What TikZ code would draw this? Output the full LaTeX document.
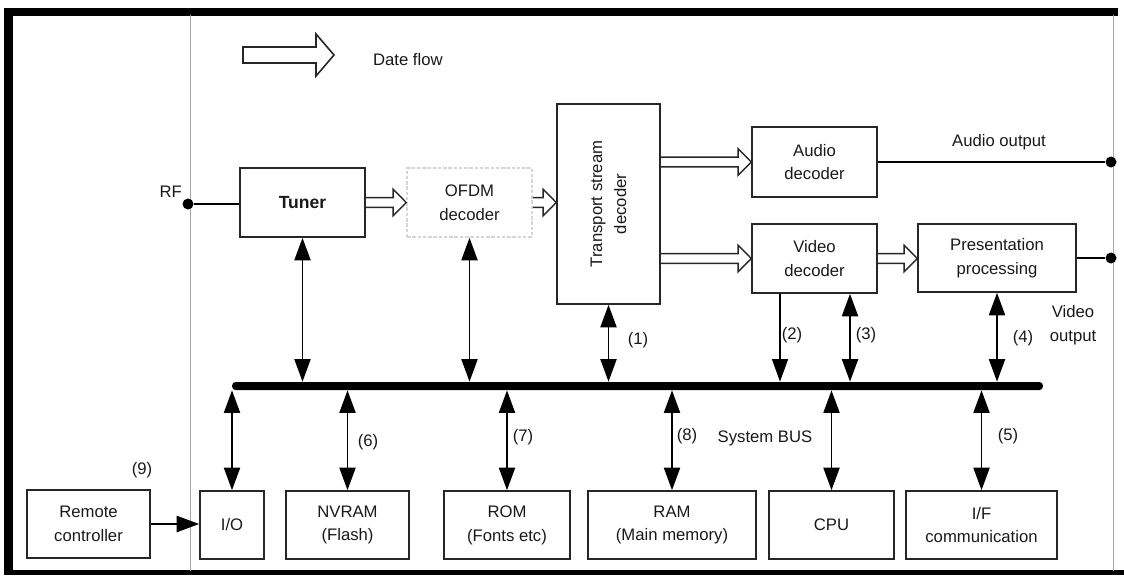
\documentclass[tikz,border=0pt]{standalone}
\usepackage{fontspec}
\setmainfont{Liberation Sans}
\usetikzlibrary{arrows.meta,calc}
\newcommand\flowarrow[2]{%
  \draw[flow] let \p1=(#1), \p2=(#2) in
    (\x1,\y1+2.8pt) -- (\x2-7.5pt,\y1+2.8pt) -- (\x2-7.5pt,\y1+7.6pt) -- (\x2,\y1)
    -- (\x2-7.5pt,\y1-7.6pt) -- (\x2-7.5pt,\y1-2.8pt) -- (\x1,\y1-2.8pt);}
\begin{document}
\begin{tikzpicture}[x=0.02cm,y=-0.02cm,
  box/.style={draw=black!85, line width=0.9pt, align=center, inner sep=0pt,
    font=\fontsize{9.5}{13.6}\selectfont, text=black!90},
  lbl/.style={font=\fontsize{9.5}{13.6}\selectfont, text=black!90, inner sep=1pt, align=center},
  tip/.style={-{Triangle[length=0.45cm,width=0.32cm]}, line width=1.1pt},
  bi/.style={{Triangle[length=0.45cm,width=0.32cm]}-{Triangle[length=0.45cm,width=0.32cm]}, line width=1.1pt},
  flow/.style={draw=black!85, line width=0.8pt, line join=miter},
  dot/.style={circle, fill=black, inner sep=0pt, minimum size=0.22cm}
]
\useasboundingbox (0,0) rectangle (1124,575);
% frame
\draw[line width=5pt] (8.5,575) -- (8.5,12) -- (1118,12);
\draw[line width=3pt] (6,572.5) -- (1124,572.5);
\draw[black!35, line width=0.4pt] (190,15) -- (190,571);
\draw[black!35, line width=0.4pt] (1113,15) -- (1113,571);
% legend
\draw[flow, line width=0.9pt] (243,47) -- (316,47) -- (316,34) -- (334,55) -- (316,76) -- (316,63) -- (243,63) -- cycle;
\node[lbl, anchor=west] (legend) at (371,60) {Date flow};
% boxes
\node[box, font=\bfseries\fontsize{10}{13.6}\selectfont, minimum width=2.5cm, minimum height=1.38cm] (tuner) at (302.5,202.5) {Tuner};
\node[box, draw=black!16, dash pattern=on 2pt off 1pt, minimum width=2.5cm, minimum height=1.38cm] (ofdm) at (469.5,202.5) {OFDM\\decoder};
\node[box, minimum width=2.06cm, minimum height=4cm] (tsd) at (608.5,204) {};
\node[lbl, rotate=90] (tsdtext) at (tsd.center) {Transport stream\\decoder};
\node[box, minimum width=2.5cm, minimum height=1.4cm] (audio) at (814.5,162) {Audio\\decoder};
\node[box, minimum width=2.5cm, minimum height=1.38cm] (video) at (814.5,258.5) {Video\\decoder};
\node[box, minimum width=3.16cm, minimum height=1.36cm] (pres) at (997,258) {Presentation\\processing};
\node[box, minimum width=2.46cm, minimum height=1.36cm] (remote) at (88.5,524) {Remote\\controller};
\node[box, minimum width=1.28cm, minimum height=1.36cm] (iobox) at (232,525) {I/O};
\node[box, minimum width=2.46cm, minimum height=1.36cm] (nvram) at (347.5,525) {NVRAM\\(Flash)};
\node[box, minimum width=2.52cm, minimum height=1.36cm] (rom) at (507,525) {ROM\\(Fonts etc)};
\node[box, minimum width=3.36cm, minimum height=1.36cm] (ram) at (672,525) {RAM\\(Main memory)};
\node[box, minimum width=2.5cm, minimum height=1.36cm] (cpu) at (831.5,525) {CPU};
\node[box, minimum width=3.02cm, minimum height=1.36cm] (ifc) at (981.5,525) {I/F\\communication};
% bus
\node[fill=black, inner sep=0pt, minimum width=16.22cm, minimum height=0.16cm, rounded corners=0.07cm] (bus) at (637.5,386) {};
% data flow arrows
\flowarrow{tuner.east}{ofdm.west}
\flowarrow{ofdm.east}{tsd.west}
\flowarrow{tsd.east |- audio.west}{audio.west}
\flowarrow{tsd.east |- video.west}{video.west}
\flowarrow{video.east}{pres.west}
% terminals
\node[dot] (rf) at (188,204) {};
\node[lbl, anchor=east] (rflbl) at (184,192) {RF};
\draw[line width=1pt] (rf) -- (rf -| tuner.west);
\node[dot] (aout) at (1111,162) {};
\draw[line width=1pt] (audio.east) -- (aout);
\node[lbl] (aoutlbl) at (999,142) {Audio output};
\node[dot] (vout) at (1111,258) {};
\draw[line width=1.6pt] (pres.east) -- (vout);
\node[lbl] (voutlbl) at (1073,325) {Video\\output};
% bus connections (top)
\draw[bi] (tuner.south) -- (tuner.south |- bus.north);
\draw[bi] (ofdm.south) -- (ofdm.south |- bus.north);
\draw[bi] (tsd.south) -- (tsd.south |- bus.north);
\coordinate (v2) at ($(video.south)+(-34.5,0)$);
\coordinate (v3) at ($(video.south)+(35.5,0)$);
\draw[tip, line width=0.6pt] (v2) -- (v2 |- bus.north);
\draw[bi] (v3) -- (v3 |- bus.north);
\draw[bi] (pres.south) -- (pres.south |- bus.north);
% bus connections (bottom)
\draw[bi] (iobox.north |- bus.south) -- (iobox.north);
\draw[bi] (nvram.north |- bus.south) -- (nvram.north);
\draw[bi] (rom.north |- bus.south) -- (rom.north);
\draw[bi] (ram.north |- bus.south) -- (ram.north);
\draw[bi] (cpu.north |- bus.south) -- (cpu.north);
\draw[bi] (ifc.north |- bus.south) -- (ifc.north);
\draw[tip, line width=1.3pt] (remote.east) -- (remote.east -| iobox.west);
% labels
\node[lbl] (l1) at (638,340) {(1)};
\node[lbl] (l2) at (792,335) {(2)};
\node[lbl] (l3) at (866,335) {(3)};
\node[lbl] (l4) at (1023,338) {(4)};
\node[lbl] (l5) at (1008,436) {(5)};
\node[lbl] (l6) at (368,442) {(6)};
\node[lbl] (l7) at (523,437) {(7)};
\node[lbl] (l8) at (687,436) {(8)};
\node[lbl] (sysbus) at (765,438) {System BUS};
\node[lbl] (l9) at (142,470) {(9)};
\end{tikzpicture}
\end{document}
